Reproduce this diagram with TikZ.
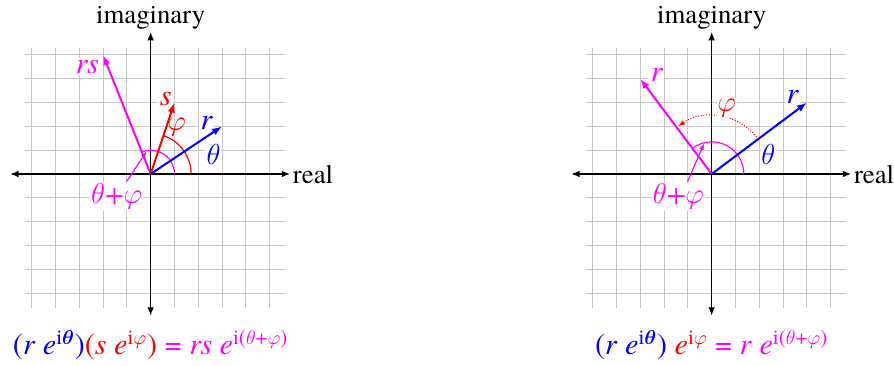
\documentclass[tikz,border=0pt]{standalone}
\usepackage{amsmath}
\usepackage{fontspec}
\setmainfont{texgyretermes}[Extension=.otf, UprightFont=*-regular, ItalicFont=*-italic, BoldFont=*-bold, BoldItalicFont=*-bolditalic]
\usepackage{tikz}
\usetikzlibrary{arrows.meta}
\usepackage{xcolor}
\definecolor{vecblue}{RGB}{0,0,255}
\definecolor{vecred}{RGB}{255,0,0}
\definecolor{vecmag}{RGB}{255,0,255}
\definecolor{gridgray}{RGB}{200,200,200}
\newcommand{\thet}{\ensuremath{\theta}}
\newcommand{\ph}{\ensuremath{\varphi}}

\begin{document}
\begin{tikzpicture}[x=0.5cm, y=0.5cm,
    gridline/.style={gridgray, line width=0.6pt},
    axis/.style={{Latex[length=5pt,width=4pt]}-{Latex[length=5pt,width=4pt]}, line width=0.8pt},
    vec/.style={-{Latex[length=6pt,width=4.5pt]}, line width=1.2pt},
    anglearc/.style={line width=0.7pt},
    axlbl/.style={font=\fontsize{16}{18}\selectfont, inner sep=1.5pt},
    veclbl/.style={fill=white, inner sep=1pt, font=\fontsize{18}{20}\selectfont\itshape},
    anglbl/.style={fill=white, inner sep=0.5pt, font=\fontsize{16.5}{18}\selectfont\itshape},
    formula/.style={font=\fontsize{18}{21}\selectfont}
]
\useasboundingbox (-6.33,-8.03) rectangle (31.23,7.31);

% left: product of two complex numbers
\begin{scope}
\foreach \k in {-5,...,5} {
  \draw[gridline] (\k,-5.63) -- (\k,5.3);
  \draw[gridline] (-5.3,\k) -- (5.65,\k);
}
\coordinate (L-O) at (0,0);
\coordinate (L-W) at (-5.9,0);
\coordinate (L-E) at (5.86,0);
\coordinate (L-S) at (0,-5.95);
\coordinate (L-N) at (0,5.97);
\draw[axis] (L-W) -- (L-E);
\draw[axis] (L-S) -- (L-N);
\node[axlbl, anchor=west] (L-real) at (L-E) {real};
\node[axlbl, anchor=south] (L-imag) at (L-N) {imaginary};

\coordinate (L-r) at (3,2);
\coordinate (L-s) at (1,3);
\coordinate (L-rs) at (-2,5);
\node[veclbl, text=vecmag] (L-rslbl) at (-2.66,4.5) {rs};
\node[veclbl, text=vecred] (L-slbl) at (0.63,3.14) {s};
\node[veclbl, text=vecblue] (L-rlbl) at (2.35,2.13) {r};
\draw[anglearc, vecred] (1.7,0) arc (0:71.57:1.7);
\draw[anglearc, vecmag] (1,0) arc (0:111.8:1);
\draw[vec, vecmag] (L-O) -- (L-rs);
\draw[vec, vecred] (L-O) -- (L-s);
\draw[vec, vecblue] (L-O) -- (L-r);

\node[anglbl, text=vecred, fill=none] (L-phi) at (1.09,1.99) {\ph};
\node[anglbl, text=vecblue] (L-theta) at (2.64,0.8) {\thet};
\node[anglbl, text=vecmag] (L-sum) at (-1.43,-0.95) {\thet+\ph};
\coordinate (L-p0) at (-1.01,-0.32);
\coordinate (L-p1) at (100:0.97);
\draw[anglearc, vecmag, -{Latex[length=4pt,width=3pt]}] (L-p0) -- (L-p1);

\node[formula] (L-eq) at (0,-7.18) {\textcolor{vecblue}{(\textit{r} \textit{e}\textsuperscript{i$\boldsymbol{\theta}$})}\textcolor{vecred}{(\textit{s} \textit{e}\textsuperscript{i\ph})} \textcolor{vecmag}{= \textit{rs} \textit{e}\textsuperscript{i(\thet+\ph)}}};
\end{scope}

% right: multiplying by a unit complex number
\begin{scope}[shift={(23.57,0)}]
\foreach \k in {-5,...,5} {
  \draw[gridline] (\k,-5.63) -- (\k,5.3);
  \draw[gridline] (-5.3,\k) -- (5.65,\k);
}
\coordinate (R-O) at (0,0);
\coordinate (R-W) at (-5.9,0);
\coordinate (R-E) at (5.86,0);
\coordinate (R-S) at (0,-5.95);
\coordinate (R-N) at (0,5.97);
\draw[axis] (R-W) -- (R-E);
\draw[axis] (R-S) -- (R-N);
\node[axlbl, anchor=west] (R-real) at (R-E) {real};
\node[axlbl, anchor=south] (R-imag) at (R-N) {imaginary};

\coordinate (R-r) at (4,3);
\coordinate (R-rot) at (-3,4);
\node[veclbl, text=vecmag] (R-rotlbl) at (-2.31,4.16) {r};
\node[veclbl, text=vecblue] (R-rlbl) at (3.39,3.25) {r};
\draw[anglearc, vecmag] (1.35,0) arc (0:126.87:1.35);
\draw[vec, vecmag] (R-O) -- (R-rot);
\draw[vec, vecblue] (R-O) -- (R-r);
\draw[line width=0.6pt, vecred, densely dotted, -{Latex[length=4pt,width=3pt]}] (36.87:2.45) arc (36.87:125:2.45);

\node[anglbl, text=vecred] (R-phi) at (0.63,2.76) {\ph};
\node[anglbl, text=vecblue] (R-theta) at (2.38,0.8) {\thet};
\node[anglbl, text=vecmag] (R-sum) at (-1.4,-0.95) {\thet+\ph};
\coordinate (R-p0) at (-1.01,-0.32);
\coordinate (R-p1) at (103.7:1.33);
\draw[anglearc, vecmag, -{Latex[length=4pt,width=3pt]}] (R-p0) -- (R-p1);

\node[formula] (R-eq) at (0,-7.18) {\textcolor{vecblue}{(\textit{r} \textit{e}\textsuperscript{i$\boldsymbol{\theta}$})} \textcolor{vecred}{\textit{e}\textsuperscript{i\ph}} \textcolor{vecmag}{= \textit{r} \textit{e}\textsuperscript{i(\thet+\ph)}}};
\end{scope}
\end{tikzpicture}
\end{document}
